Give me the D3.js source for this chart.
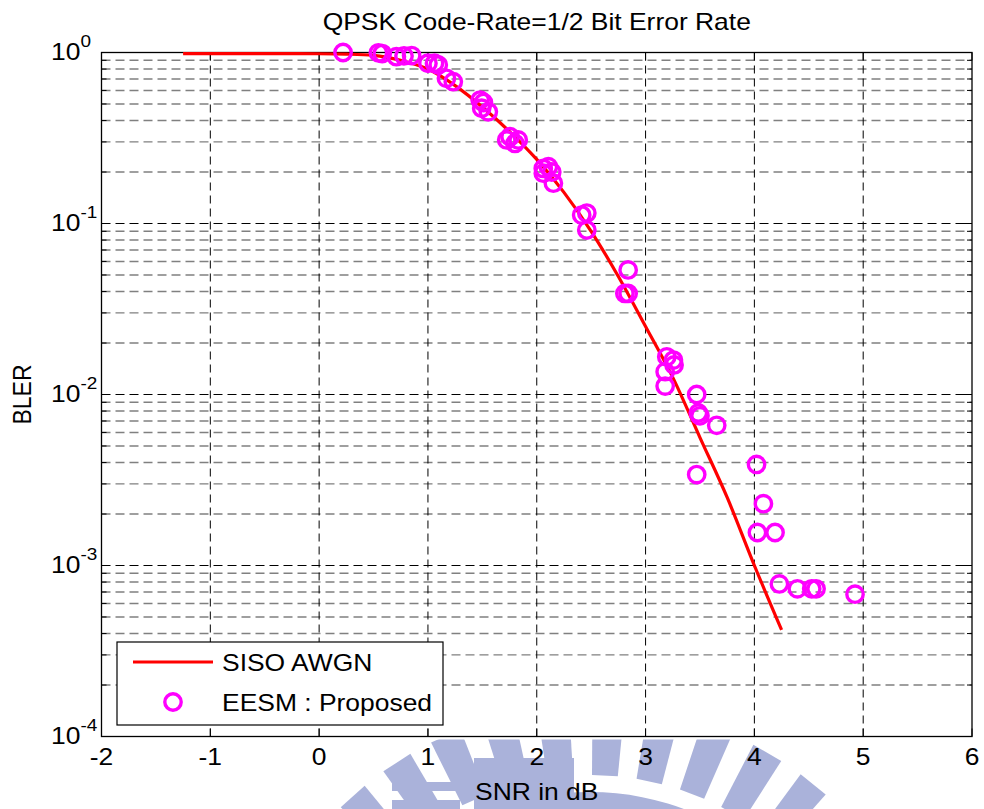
<!DOCTYPE html>
<html>
<head>
<meta charset="utf-8">
<script src="https://cdn.jsdelivr.net/npm/d3@7"></script>
<style>
  html, body { margin: 0; padding: 0; background: #fff; }
  svg { display: block; font-family: "Liberation Sans", Arial, Helvetica, sans-serif; }
</style>
</head>
<body>
<svg id="chart" width="984" height="809"></svg>
<script>
// SISO AWGN reference curve (SNR in dB, BLER)
const awgnSnr  = [-1.25, -1.0, -0.5, 0.0, 0.25, 0.5, 0.75, 1.0, 1.25, 1.5, 1.75, 2.0, 2.25, 2.5, 2.75, 3.0, 3.25, 3.5, 3.75, 4.0, 4.25];
const awgnBler = [0.985, 0.985, 0.985, 0.983, 0.978, 0.962, 0.90, 0.80, 0.64, 0.48, 0.345, 0.237, 0.152, 0.09, 0.049, 0.025, 0.0126, 0.0056, 0.0025, 0.001, 0.00042];

// EESM proposed points (SNR in dB, BLER)
const eesmSnr  = [0.22, 0.545, 0.58, 0.71, 0.78, 0.85, 1.0, 1.06, 1.095, 1.17, 1.233,
                  1.48, 1.494, 1.51, 1.555, 1.724, 1.755, 1.80, 1.83,
                  2.06, 2.06, 2.107, 2.138, 2.153, 2.413, 2.46, 2.46,
                  2.84, 2.81, 2.84, 3.195, 3.256, 3.262, 3.18, 3.18,
                  3.47, 3.485, 3.50, 3.654, 4.02, 3.47, 4.083, 4.028, 4.19,
                  4.23, 4.395, 4.527, 4.567, 4.925];
const eesmBler = [1.0, 0.995, 0.985, 0.945, 0.955, 0.96, 0.865, 0.865, 0.845, 0.706, 0.675,
                  0.527, 0.472, 0.51, 0.45, 0.308, 0.322, 0.294, 0.308,
                  0.21, 0.197, 0.215, 0.20, 0.172, 0.112, 0.115, 0.0916,
                  0.0535, 0.039, 0.039, 0.0166, 0.0159, 0.0149, 0.0136, 0.0112,
                  0.010, 0.0078, 0.0075, 0.0066, 0.0039, 0.0034, 0.0023, 0.00156, 0.00156,
                  0.00078, 0.00073, 0.00073, 0.00073, 0.00068];

// Axis ticks
const xTicks = [-2, -1, 0, 1, 2, 3, 4, 5, 6];
const yExponents = [0, -1, -2, -3, -4];
const minorMultipliers = [2, 3, 4, 5, 6, 7, 8, 9];

const titleText = "QPSK Code-Rate=1/2 Bit Error Rate";
const xLabelText = "SNR in dB";
const yLabelText = "BLER";
const legendNames = ["SISO AWGN", "EESM : Proposed"];

const svg = d3.select("#chart");
const W = 984, H = 809;
const plot = { left: 101.5, right: 972, top: 52.5, bottom: 736.5 };
const FS = 23;      // text size
const SX = 1.15;    // horizontal text stretch of the figure export

const x = d3.scaleLinear().domain([-2, 6]).range([plot.left, plot.right]);
const y = d3.scaleLog().domain([1e-4, 1]).range([plot.bottom, plot.top]);

// Text placed with the horizontal stretch applied about its anchor
function stretchedText(parent, px, py, anchor, str, rot) {
  const g = parent.append("g")
    .attr("transform", `translate(${px},${py}) scale(${SX},1)` + (rot ? ` rotate(${rot})` : ""));
  return g.append("text").attr("font-size", FS).attr("text-anchor", anchor).attr("fill", "#000").text(str);
}

svg.append("rect").attr("width", W).attr("height", H).attr("fill", "#fff");

// Faint crest printed under the axis area
const clip = svg.append("clipPath").attr("id", "wmclip");
clip.append("rect").attr("x", 0).attr("y", 739.5).attr("width", W).attr("height", H - 739.5);
const wm = svg.append("g").attr("fill", "#aab2da").attr("clip-path", "url(#wmclip)");
const cx = 590, cy = 1060;
const rayAngles = d3.range(-168, -10, 9);
rayAngles.forEach(a => {
  const a0 = (a - 2.6) * Math.PI / 180, a1 = (a + 2.6) * Math.PI / 180;
  const r0 = 285, r1 = 355;
  const pts = [[cx + r0 * Math.cos(a0), cy + r0 * Math.sin(a0)],
               [cx + r1 * Math.cos(a0), cy + r1 * Math.sin(a0)],
               [cx + r1 * Math.cos(a1), cy + r1 * Math.sin(a1)],
               [cx + r0 * Math.cos(a1), cy + r0 * Math.sin(a1)]];
  wm.append("path").attr("d", "M" + pts.join("L") + "Z");
});
wm.append("path")
  .attr("d", d3.arc().innerRadius(250).outerRadius(268).startAngle(-Math.PI / 2).endAngle(Math.PI / 2)())
  .attr("transform", `translate(${cx},${cy})`);
wm.append("rect").attr("x", 392).attr("y", 782).attr("width", 68).attr("height", 9);
wm.append("rect").attr("x", 392).attr("y", 800).attr("width", 68).attr("height", 9);
wm.append("rect").attr("x", 474).attr("y", 758).attr("width", 100).attr("height", 51);

// Plot background
svg.append("rect")
  .attr("x", plot.left).attr("y", plot.top)
  .attr("width", plot.right - plot.left).attr("height", plot.bottom - plot.top)
  .attr("fill", "#fff");

const grid = svg.append("g");

// Minor horizontal grid (gray dashed)
const minorVals = [];
yExponents.slice(1).forEach(e => minorMultipliers.forEach(m => minorVals.push(m * Math.pow(10, e))));
grid.selectAll("line.minor").data(minorVals).join("line")
  .attr("x1", plot.left).attr("x2", plot.right)
  .attr("y1", d => y(d)).attr("y2", d => y(d))
  .attr("stroke", "#808080").attr("stroke-width", 1.4)
  .attr("stroke-dasharray", "9,5");

// Major horizontal grid at decades
grid.selectAll("line.major").data([1e-1, 1e-2, 1e-3]).join("line")
  .attr("x1", plot.left).attr("x2", plot.right)
  .attr("y1", d => y(d)).attr("y2", d => y(d))
  .attr("stroke", "#000").attr("stroke-width", 1.2)
  .attr("stroke-dasharray", "9,5");

// Vertical grid
grid.selectAll("line.vx").data(xTicks.slice(1, -1)).join("line")
  .attr("x1", d => x(d)).attr("x2", d => x(d))
  .attr("y1", plot.top).attr("y2", plot.bottom)
  .attr("stroke", "#000").attr("stroke-width", 1)
  .attr("stroke-dasharray", "8,5");

// Tick marks (inward) on all four sides
const ticks = svg.append("g").attr("stroke", "#000").attr("stroke-width", 1);
xTicks.forEach(t => {
  ticks.append("line").attr("x1", x(t)).attr("x2", x(t)).attr("y1", plot.bottom).attr("y2", plot.bottom - 8);
  ticks.append("line").attr("x1", x(t)).attr("x2", x(t)).attr("y1", plot.top).attr("y2", plot.top + 8);
});
yExponents.forEach(e => {
  const v = Math.pow(10, e);
  ticks.append("line").attr("x1", plot.left).attr("x2", plot.left + 8).attr("y1", y(v)).attr("y2", y(v));
  ticks.append("line").attr("x1", plot.right).attr("x2", plot.right - 8).attr("y1", y(v)).attr("y2", y(v));
});
minorVals.forEach(v => {
  ticks.append("line").attr("x1", plot.left).attr("x2", plot.left + 5).attr("y1", y(v)).attr("y2", y(v));
  ticks.append("line").attr("x1", plot.right).attr("x2", plot.right - 5).attr("y1", y(v)).attr("y2", y(v));
});

// Axes box
svg.append("rect")
  .attr("x", plot.left).attr("y", plot.top)
  .attr("width", plot.right - plot.left).attr("height", plot.bottom - plot.top)
  .attr("fill", "none").attr("stroke", "#000").attr("stroke-width", 1.3);

// X tick labels
const xl = svg.append("g");
xTicks.forEach(t => stretchedText(xl, x(t), 765, "middle", String(t)));

// Y tick labels: 10^e
const ylg = svg.append("g");
yExponents.forEach(e => {
  const t = stretchedText(ylg, 51, y(Math.pow(10, e)) + 7.5, "start", "");
  t.append("tspan").text("10");
  t.append("tspan").attr("dy", -13).attr("font-size", 16.5).text(String(e));
});

const data = svg.append("g");

// AWGN curve
const awgn = awgnSnr.map((s, i) => [s, awgnBler[i]]);
data.append("path")
  .datum(awgn)
  .attr("d", d3.line().x(d => x(d[0])).y(d => y(d[1])).curve(d3.curveMonotoneX))
  .attr("fill", "none").attr("stroke", "#ff0000").attr("stroke-width", 3.2);

// EESM markers
const eesm = eesmSnr.map((s, i) => [s, eesmBler[i]]);
data.selectAll("circle").data(eesm).join("circle")
  .attr("cx", d => x(d[0])).attr("cy", d => y(d[1])).attr("r", 8.2)
  .attr("fill", "none").attr("stroke", "#ff00ff").attr("stroke-width", 3.4);

// Title and axis labels
const labels = svg.append("g");
stretchedText(labels, (plot.left + plot.right) / 2, 30, "middle", titleText);
stretchedText(labels, (plot.left + plot.right) / 2, 800, "middle", xLabelText);
stretchedText(labels, 31, (plot.top + plot.bottom) / 2, "middle", yLabelText, -90);

// Legend
const lg = svg.append("g");
lg.append("rect").attr("x", 117).attr("y", 642).attr("width", 326).attr("height", 83)
  .attr("fill", "#fff").attr("stroke", "#000").attr("stroke-width", 1.2);
lg.append("line").attr("x1", 133).attr("x2", 213).attr("y1", 662).attr("y2", 662)
  .attr("stroke", "#ff0000").attr("stroke-width", 3.2);
lg.append("circle").attr("cx", 173).attr("cy", 702).attr("r", 8.2)
  .attr("fill", "none").attr("stroke", "#ff00ff").attr("stroke-width", 3.4);
legendNames.forEach((n, i) => stretchedText(lg, 222, 671 + i * 40, "start", n));
</script>
</body>
</html>
